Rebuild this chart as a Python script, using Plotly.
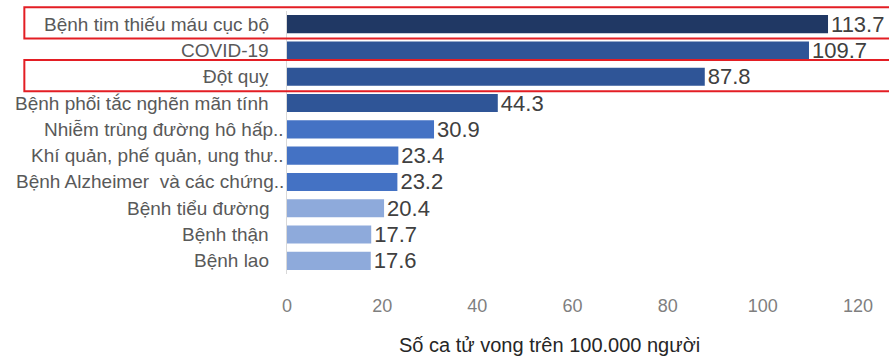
import plotly.graph_objects as go

# Leading causes of death, deaths per 100,000 people
causes = [
    "Bệnh tim thiếu máu cục bộ",
    "COVID-19",
    "Đột quỵ",
    "Bệnh phổi tắc nghẽn mãn tính",
    "Nhiễm trùng đường hô hấp..",
    "Khí quản, phế quản, ung thư..",
    "Bệnh Alzheimer  và các chứng..",
    "Bệnh tiểu đường",
    "Bệnh thận",
    "Bệnh lao",
]
rates = [113.7, 109.7, 87.8, 44.3, 30.9, 23.4, 23.2, 20.4, 17.7, 17.6]
bar_colors = [
    "#203864",
    "#2f5597", "#2f5597", "#2f5597",
    "#4472c4", "#4472c4", "#4472c4",
    "#8eaadb", "#8eaadb", "#8eaadb",
]
x_ticks = [0, 20, 40, 60, 80, 100, 120]
highlighted = [0, 2]  # rows outlined in red
axis_title = "Số ca tử vong trên 100.000 người"

FONT = "Liberation Sans, Arial, sans-serif"
n = len(causes)

fig = go.Figure(
    go.Bar(
        x=rates,
        y=list(range(n)),
        orientation="h",
        marker=dict(color=bar_colors, line=dict(width=0)),
        text=[f"{v:.1f}" for v in rates],
        textposition="outside",
        textfont=dict(family=FONT, size=22, color="#404040"),
        constraintext="none",
        cliponaxis=False,
        hoverinfo="skip",
    )
)

# Category labels; truncated names run closer to the axis
annotations = []
for i, name in enumerate(causes):
    truncated = name.endswith("..")
    annotations.append(
        dict(
            text=name, x=0, xref="paper", y=i, yref="y",
            xanchor="right", yanchor="middle", showarrow=False,
            xshift=-1 if truncated else -16,
            font=dict(family=FONT, size=19, color="#595959"),
        )
    )
annotations.append(
    dict(
        text=axis_title, x=0.46, xref="paper", y=-0.27, yref="paper",
        xanchor="center", yanchor="middle", showarrow=False,
        font=dict(family=FONT, size=20, color="#262626"),
    )
)

# Red outlines around highlighted rows
shapes = []
for i in highlighted:
    shapes.append(
        dict(
            type="rect", xref="paper", yref="paper",
            x0=-0.46, x1=1.3,
            y0=1 - (i + 0.5 + 0.55) / n, y1=1 - (i + 0.5 - 0.64) / n,
            line=dict(color="#e31e24", width=2),
            fillcolor="rgba(0,0,0,0)",
        )
    )

fig.update_layout(
    width=889,
    height=358,
    margin=dict(l=287, r=31, t=11, b=84),
    paper_bgcolor="white",
    plot_bgcolor="white",
    bargap=0.31,
    showlegend=False,
    annotations=annotations,
    shapes=shapes,
    xaxis=dict(
        range=[0, 120],
        tickvals=x_ticks,
        showgrid=False,
        zeroline=False,
        showline=False,
        ticks="",
        ticklabelstandoff=19,
        tickfont=dict(family=FONT, size=18, color="#7f7f7f"),
    ),
    yaxis=dict(
        range=[n - 0.5, -0.5],
        showticklabels=False,
        showgrid=False,
        zeroline=False,
        showline=True,
        linecolor="#d9d9d9",
        linewidth=1,
        ticks="",
    ),
)

fig.write_html("out.html")
